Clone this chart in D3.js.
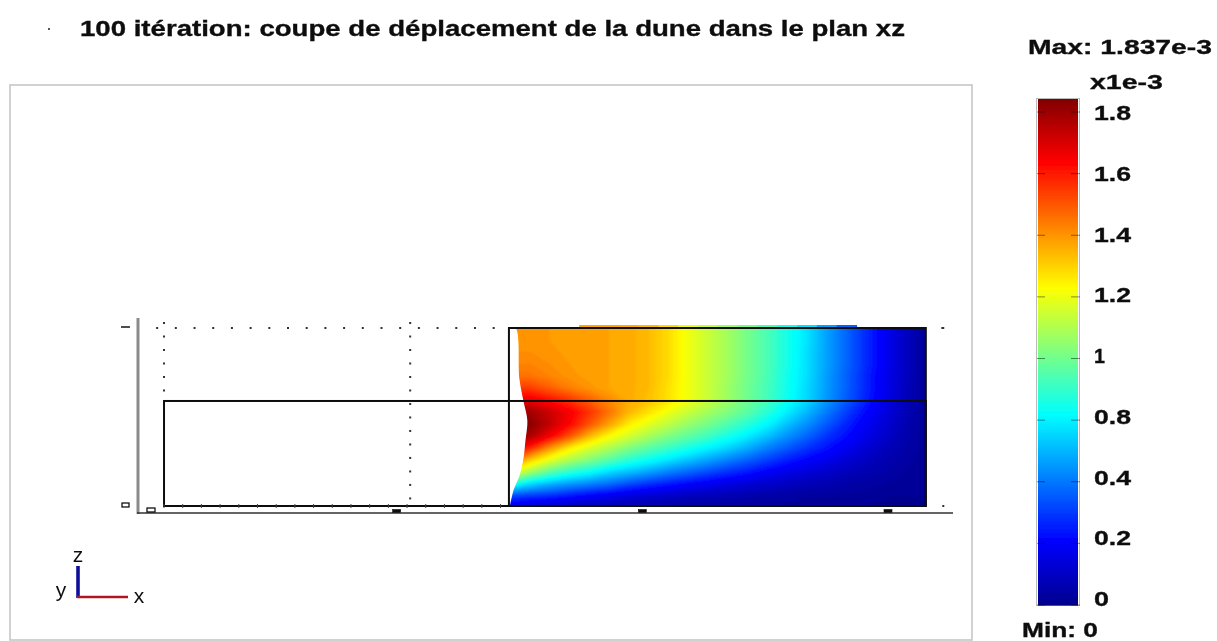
<!DOCTYPE html>
<html><head><meta charset="utf-8">
<style>html,body{margin:0;padding:0;background:#fff}svg{display:block}text{font-family:"Liberation Sans",Arial,sans-serif;fill:#111}</style>
<script src="https://cdn.jsdelivr.net/npm/d3@7"></script></head><body>
<svg id="c" width="1217" height="641"></svg>
<script>
const titleText = "100 itération: coupe de déplacement de la dune dans le plan xz";
const maxText = "Max: 1.837e-3", minText = "Min: 0", unitText = "x1e-3";
const barLabels = ["1.8","1.6","1.4","1.2","1","0.8","0.4","0.2","0"];
const valueMax = 1.837;
const xTicks = [0,1,2,3];
const zTicks = [0,1];
const jetStops = [0,0.125,0.375,0.625,0.875,1];
const jetColors = ["#00008f","#0000ff","#00ffff","#ffff00","#ff0000","#800000"];
// displacement (x1e-3), rows top to bottom, columns left to right across the dune section
const heatRows = [
[1.34,1.34,1.33,1.32,1.31,1.31,1.30,1.27,1.21,1.12,1.05,0.98,0.90,0.82,0.73,0.64,0.52,0.41,0.30,0.20,0.10,0.02],
[1.34,1.34,1.33,1.32,1.31,1.31,1.30,1.27,1.21,1.12,1.05,0.98,0.90,0.82,0.73,0.64,0.52,0.41,0.30,0.20,0.10,0.02],
[1.35,1.35,1.34,1.32,1.31,1.31,1.30,1.27,1.21,1.12,1.05,0.98,0.90,0.82,0.73,0.63,0.52,0.41,0.30,0.20,0.10,0.02],
[1.37,1.37,1.35,1.33,1.32,1.31,1.30,1.27,1.21,1.12,1.05,0.98,0.90,0.82,0.73,0.63,0.52,0.41,0.30,0.20,0.10,0.02],
[1.40,1.40,1.37,1.34,1.32,1.31,1.30,1.27,1.21,1.12,1.05,0.98,0.90,0.82,0.72,0.63,0.51,0.40,0.29,0.19,0.10,0.02],
[1.50,1.50,1.44,1.38,1.34,1.31,1.30,1.27,1.20,1.12,1.05,0.97,0.89,0.81,0.72,0.62,0.51,0.40,0.29,0.19,0.09,0.02],
[1.64,1.64,1.58,1.52,1.44,1.36,1.30,1.26,1.20,1.12,1.05,0.97,0.89,0.81,0.71,0.62,0.50,0.39,0.28,0.18,0.09,0.02],
[1.78,1.78,1.70,1.62,1.52,1.40,1.28,1.20,1.12,1.05,0.98,0.92,0.85,0.76,0.66,0.56,0.45,0.34,0.24,0.16,0.08,0.02],
[1.83,1.82,1.72,1.60,1.46,1.32,1.18,1.10,1.03,0.96,0.90,0.83,0.76,0.68,0.58,0.49,0.39,0.29,0.21,0.14,0.07,0.02],
[1.80,1.76,1.62,1.46,1.28,1.15,1.07,0.99,0.92,0.86,0.80,0.73,0.66,0.58,0.49,0.41,0.32,0.25,0.18,0.12,0.06,0.02],
[1.68,1.54,1.34,1.18,1.08,1.00,0.92,0.85,0.79,0.73,0.67,0.61,0.54,0.46,0.39,0.32,0.26,0.20,0.14,0.09,0.05,0.02],
[1.45,1.24,1.10,1.00,0.92,0.84,0.76,0.70,0.64,0.58,0.52,0.46,0.40,0.34,0.28,0.23,0.19,0.14,0.10,0.07,0.04,0.01],
[1.15,0.98,0.85,0.76,0.70,0.62,0.57,0.52,0.46,0.41,0.36,0.31,0.27,0.22,0.18,0.15,0.12,0.09,0.07,0.05,0.03,0.01],
[0.75,0.62,0.55,0.50,0.46,0.42,0.36,0.31,0.27,0.23,0.20,0.17,0.14,0.12,0.10,0.08,0.07,0.05,0.04,0.03,0.02,0.01],
[0.35,0.32,0.30,0.26,0.22,0.19,0.15,0.13,0.11,0.09,0.08,0.07,0.06,0.05,0.04,0.03,0.03,0.02,0.02,0.01,0.01,0.01],
[0.15,0.10,0.08,0.07,0.06,0.05,0.05,0.04,0.04,0.03,0.03,0.03,0.02,0.02,0.02,0.01,0.01,0.01,0.01,0.00,0.00,0.00]
];
// eroded dune face (x, z) in model units
const faceX = [1.457,1.484,1.500,1.516,1.532,1.524,1.516,1.500,1.476,1.461];
const faceZ = [1.000,1.000,0.710,0.590,0.480,0.365,0.265,0.170,0.090,0.000];
const outerBoxX = [0.053,3.154], outerBoxZ = [0,0.59];
const duneBoxX = [1.457,3.154], duneBoxZ = [0,1];
const bulgeX = [1.72,2.90];

const W=1217,H=641;
const svg=d3.select("#c");
const defs=svg.append("defs");
const soft=(id,s)=>defs.append("filter").attr("id",id).attr("x","-5%").attr("y","-5%").attr("width","110%").attr("height","110%")
  .append("feGaussianBlur").attr("stdDeviation",s);
soft("s1",1.0); soft("s2",0.6); soft("s3",0.5);

const x=d3.scaleLinear().domain([0,3]).range([151,888]);
const z=d3.scaleLinear().domain([0,1]).range([506,328]);
const jet=d3.scaleLinear().domain(jetStops.map(d=>d*valueMax)).range(jetColors).clamp(true);

const nR=heatRows.length,nC=heatRows[0].length;
const hx=d3.scaleLinear().domain([0.5,nC-0.5]).range([x(duneBoxX[0])+1,x(duneBoxX[1])]);
const hy=d3.scaleLinear().domain([0.5,nR-0.5]).range([z(1),z(0)+2]);

// frame
svg.append("rect").attr("x",10).attr("y",85).attr("width",962).attr("height",555)
  .attr("fill","none").attr("stroke","#c6c6c6").attr("stroke-width",1.6);

// heat map
defs.append("clipPath").attr("id","hc").append("rect")
  .attr("x",x(duneBoxX[0])).attr("y",z(1)).attr("width",x(duneBoxX[1])-x(duneBoxX[0])).attr("height",z(0)-z(1));
const geo=d3.geoPath(d3.geoTransform({point(a,b){this.stream.point(hx(a),hy(b));}}));
const cs=d3.contours().size([nC,nR]).thresholds(d3.range(-0.01,1.86,0.02))(heatRows.flat());
const hg=svg.append("g").attr("clip-path","url(#hc)").append("g").attr("filter","url(#s1)");
hg.selectAll("path").data(cs).join("path").attr("d",geo)
  .attr("fill",d=>jet(d.value+0.01)).attr("stroke",d=>jet(d.value+0.01)).attr("stroke-width",0.4);

// top sliver of the deformed surface
const topRow=heatRows[0];
svg.append("g").attr("filter","url(#s3)").selectAll("rect").data(topRow.map((v,i)=>({v,i})).filter(d=>{const t=x.invert(hx(d.i+0.5));return t>=bulgeX[0]&&t<=bulgeX[1];}))
  .join("rect").attr("x",d=>hx(d.i+0.5)-10).attr("width",20.5).attr("y",z(1)-3).attr("height",3).attr("fill",d=>jet(d.v));

// eroded face
const faceArea=d3.area().x0(x(duneBoxX[0])).x1((d,i)=>x(faceX[i])).y((d,i)=>z(faceZ[i])).curve(d3.curveCatmullRom);
svg.append("path").datum(faceX).attr("d",faceArea).attr("fill","#fff").attr("filter","url(#s3)");

const lines=svg.append("g").attr("filter","url(#s3)");
// dotted grid
const dot=(a,b)=>lines.append("rect").attr("x",a-1).attr("y",b-1).attr("width",2).attr("height",2).attr("fill","#333");
d3.range(0.025,3.24,0.0761).forEach(t=>{const a=x(t); if(a<x(duneBoxX[0])||a>x(duneBoxX[1])) dot(a,z(1));});
[0.053,1.055].forEach(t=>{d3.range(1.028,0,-0.0758).forEach(v=>{ if(t<0.1&&v<0.6) return; dot(x(t),z(v));});});
[3.225].forEach(t=>{dot(x(t),z(1));dot(x(t),z(0));});

// boxes
const rectLine=(xs,zs,w)=>lines.append("rect").attr("x",x(xs[0])).attr("y",z(zs[1])).attr("width",x(xs[1])-x(xs[0])).attr("height",z(zs[0])-z(zs[1]))
  .attr("fill","none").attr("stroke","#111").attr("stroke-width",w);
rectLine(outerBoxX,outerBoxZ,2);
rectLine(duneBoxX,duneBoxZ,2);
d3.range(0.053,1.45,0.0761).forEach(t=>lines.append("line").attr("x1",x(t)).attr("x2",x(t)).attr("y1",z(0)-2).attr("y2",z(0)+2).attr("stroke","#444").attr("stroke-width",1));

// axes
lines.append("line").attr("x1",138).attr("x2",138).attr("y1",318).attr("y2",514).attr("stroke","#8a8a8a").attr("stroke-width",3);
lines.append("line").attr("x1",137).attr("x2",953).attr("y1",513).attr("y2",513).attr("stroke","#333").attr("stroke-width",1.6);
xTicks.forEach(t=>{
  const hollow=t===0;
  lines.append("rect").attr("x",x(t)-4).attr("y",hollow?508:509.5).attr("width",8).attr("height",hollow?4:3)
    .attr("fill",hollow?"#fff":"#111").attr("stroke","#111").attr("stroke-width",hollow?1.3:.6);
});
zTicks.forEach(t=>{
  if(t===0) lines.append("rect").attr("x",122).attr("y",z(t)-3).attr("width",7).attr("height",4).attr("fill","#fff").attr("stroke","#111").attr("stroke-width",1.3);
  else lines.append("line").attr("x1",121).attr("x2",130).attr("y1",z(t)-1).attr("y2",z(t)-1).attr("stroke","#222").attr("stroke-width",1.6);
});

// orientation triad
const tri=svg.append("g").attr("filter","url(#s3)");
tri.append("line").attr("x1",78).attr("x2",78).attr("y1",598).attr("y2",566).attr("stroke","#10109a").attr("stroke-width",3.6);
tri.append("line").attr("x1",77).attr("x2",128).attr("y1",597).attr("y2",597).attr("stroke","#b01822").attr("stroke-width",2.4);
const tl=(s,a,b)=>tri.append("text").attr("x",a).attr("y",b).attr("text-anchor","middle").attr("font-size",21).text(s);
tl("z",78,562); tl("y",61,597); tl("x",139,603);

// text
const txt=svg.append("g").attr("filter","url(#s3)");
const label=(s,a,b,size,len)=>txt.append("text").attr("x",a).attr("y",b).attr("font-size",size).attr("font-weight","bold")
  .attr("stroke","#111").attr("stroke-width",0.35)
  .attr("textLength",len).attr("lengthAdjust","spacingAndGlyphs").text(s);
txt.append("rect").attr("x",48).attr("y",28).attr("width",2).attr("height",2).attr("fill","#555");
label(titleText,80,36,22,825);
label(maxText,1028,54,21,184);
label(unitText,1090,89,21,73);
label(minText,1022,637,20,76);

// colour bar
const barY=d3.scaleLinear().domain([0,valueMax]).range([605,99]);
const bar=svg.append("g").attr("filter","url(#s2)");
bar.append("rect").attr("x",1036.5).attr("y",98.5).attr("width",43).attr("height",507).attr("fill","none").attr("stroke","#bbb").attr("stroke-width",1);
const steps=d3.range(0,valueMax,valueMax/253);
bar.selectAll("rect.c").data(steps).join("rect").attr("class","c").attr("x",1038).attr("width",40)
  .attr("y",d=>barY(d+valueMax/253)).attr("height",d=>barY(d)-barY(d+valueMax/253)+.6).attr("fill",d=>jet(d));
const tickY=d3.scalePoint().domain(barLabels).range([112,605]);
barLabels.forEach(l=>{
  const y=tickY(l);
  [[1037,1045],[1071,1080]].forEach(p=>bar.append("line").attr("x1",p[0]).attr("x2",p[1]).attr("y1",y).attr("y2",y).attr("stroke","#000").attr("stroke-opacity",0.45).attr("stroke-width",1));
});
const labelY=d3.scalePoint().domain(barLabels).range([113,599]);
barLabels.forEach(l=>{
  label(l,1094,labelY(l)+7,20,l.length===1?(l==="1"?11:15):37);
});
</script></body></html>
